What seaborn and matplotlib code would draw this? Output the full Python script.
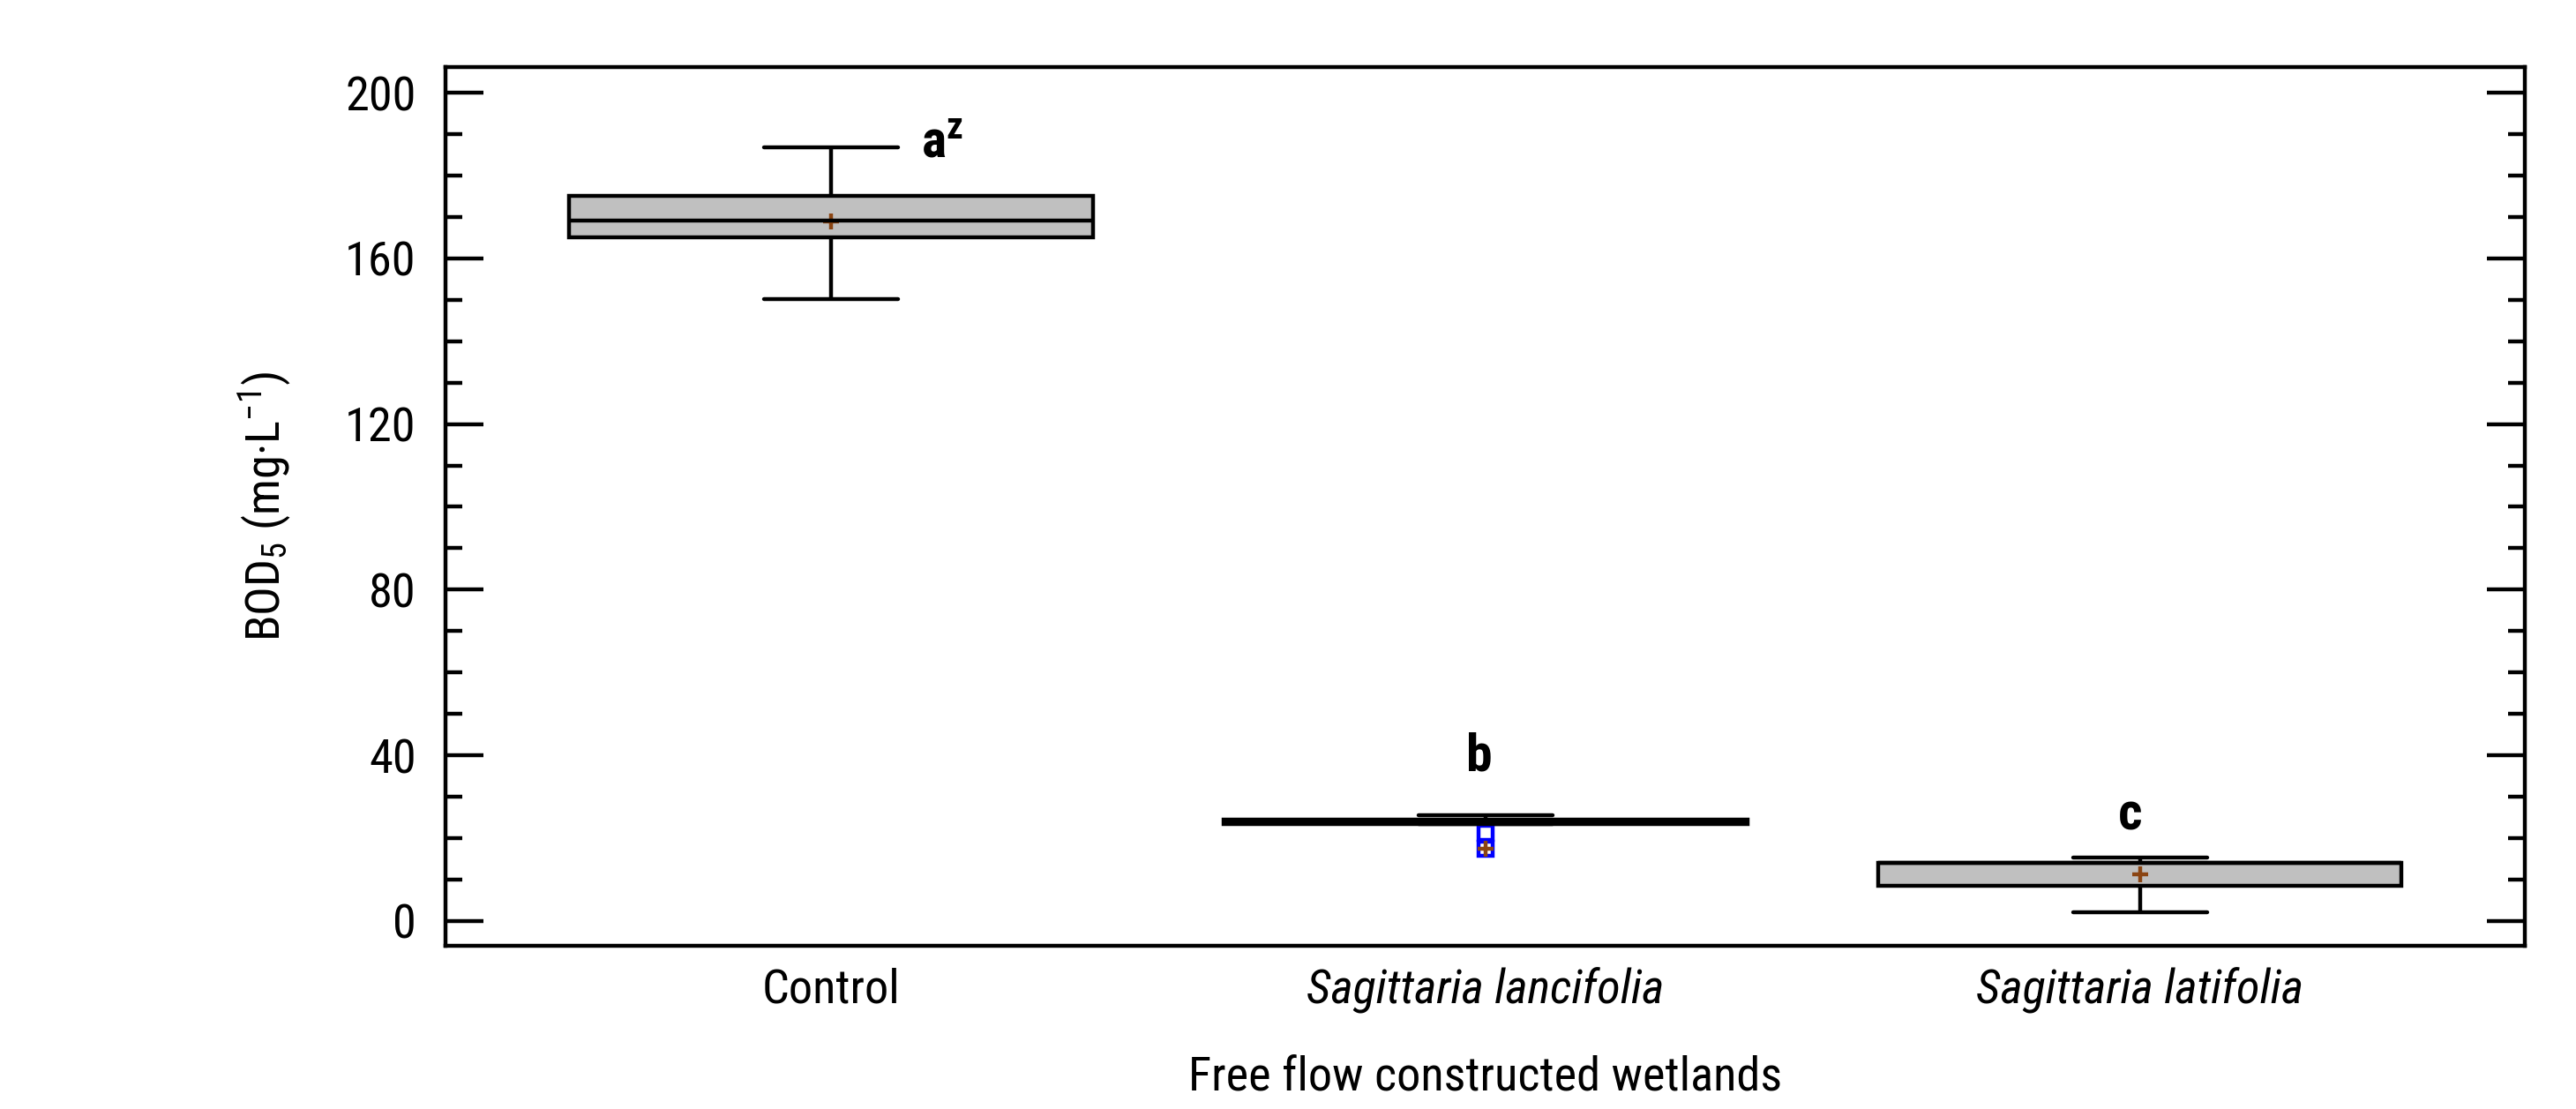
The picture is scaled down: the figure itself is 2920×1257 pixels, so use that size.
import numpy as np
import pandas as pd
import matplotlib
matplotlib.use("Agg")
import matplotlib.pyplot as plt
from matplotlib.ticker import MultipleLocator
import seaborn as sns

# --- data ---
groups = ["Control", "Sagittaria lancifolia", "Sagittaria latifolia"]
control_bod = [150.2, 165.0, 169.2, 175.0, 186.8]
lancifolia_bod = [17.4, 21.2, 23.4, 23.7, 24.0, 24.2, 24.5, 25.0, 25.5]
latifolia_bod = [2.1, 8.5, 14.0, 14.0, 15.3]
mean_bod = [169.0, 17.4, 11.3]
letters = [r"a$^{z}$", "b", "c"]
letter_x = [0.17, 0.99, 1.985]
letter_y = [187.7, 39.6, 25.5]

df = pd.DataFrame({
    "group": [groups[0]] * len(control_bod) + [groups[1]] * len(lancifolia_bod)
             + [groups[2]] * len(latifolia_bod),
    "bod": control_bod + lancifolia_bod + latifolia_bod,
})
df_mean = pd.DataFrame({"group": groups, "bod": mean_bod})

sns.set_style("ticks")
plt.rcParams["font.family"] = ["Roboto Condensed", "DejaVu Sans"]
plt.rcParams["mathtext.default"] = "regular"
plt.rcParams["text.color"] = "black"
plt.rcParams["axes.labelcolor"] = "black"
plt.rcParams["xtick.color"] = "black"
plt.rcParams["ytick.color"] = "black"

lw = 1.6
fs = 19.6
fig = plt.figure(figsize=(14.6, 6.285), dpi=200)
ax = fig.add_axes([0.1729, 0.1472, 0.8072, 0.7923])

sns.boxplot(data=df, x="group", y="bod", order=groups, color="#C0C0C0",
            saturation=1, width=0.8, linecolor="black", linewidth=lw,
            whis=1.5, capwidths=0.205,
            flierprops=dict(marker="s", markeredgecolor="blue", markerfacecolor="none",
                            markersize=5.6, markeredgewidth=lw),
            ax=ax)

# box fill under the mean marks, fliers under them too
for p in ax.patches:
    p.set_zorder(1.5)
for ln in ax.lines:
    if ln.get_marker() == "s":
        ln.set_zorder(1.8)
        ln.set_markeredgecolor("blue")
        ln.set_markeredgewidth(lw)

sns.pointplot(data=df_mean, x="group", y="bod", order=groups, markers="+",
              linestyles="none", color="#8B4513", errorbar=None,
              markersize=6.5, markeredgewidth=lw, zorder=1.9, ax=ax)

for x, y, t in zip(letter_x, letter_y, letters):
    ax.text(x, y, t, ha="center", va="center", fontsize=21.5, fontweight="bold")

ax.set_xlim(-0.589, 2.588)
ax.set_ylim(-6, 206.2)
ax.set_yticks(np.arange(0, 201, 40))
ax.yaxis.set_minor_locator(MultipleLocator(10))
ax.tick_params(axis="y", which="both", direction="in", left=True, right=True,
               width=lw, labelsize=fs, pad=12)
ax.tick_params(axis="y", which="major", length=15.5)
ax.tick_params(axis="y", which="minor", length=6.8)
ax.tick_params(axis="x", which="both", bottom=False, length=0, labelsize=fs, pad=9)
for lbl in ax.get_xticklabels()[1:]:
    lbl.set_style("italic")

for s in ax.spines.values():
    s.set_linewidth(lw)
    s.set_color("black")
    s.set_visible(True)

ax.set_xlabel("Free flow constructed wetlands", fontsize=fs, labelpad=17)
ax.set_ylabel("BOD$_5$ (mg·L$^{-1}$)", fontsize=fs, labelpad=21)

fig.savefig("out.png", dpi=200)
